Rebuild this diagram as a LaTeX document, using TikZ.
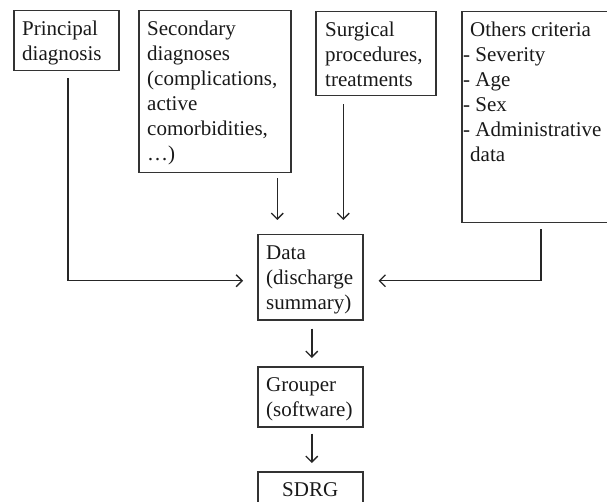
\documentclass[tikz,border=0pt]{standalone}
\usepackage{fontspec}
\setmainfont{Liberation Serif}
\usetikzlibrary{arrows.meta,calc}
\begin{document}
\begin{tikzpicture}[x=1pt,y=-1pt,
  box/.style={draw=black!80, line width=1.5pt, inner sep=0pt, anchor=north west},
  txt/.style={anchor=north west, inner sep=0pt, align=left, text=black!90, font=\fontsize{21}{25}\selectfont},
  arr/.style={draw=black!85, line width=1.5pt, -{Straight Barb[length=6pt,width=12pt,line width=1.3pt]}}]
\useasboundingbox (0,0) rectangle (607,502);
% boxes
\node[box, minimum width=105pt, minimum height=60pt] (p) at (13,10) {};
\node[box, minimum width=152pt, minimum height=162pt] (s) at (138,10) {};
\node[box, minimum width=120pt, minimum height=84pt] (u) at (315,11) {};
\node[box, minimum width=147pt, minimum height=211pt] (o) at (461,11) {};
\node[box, minimum width=105pt, minimum height=85pt] (d) at (257,234) {};
\node[box, minimum width=105pt, minimum height=60pt] (g) at (257,366) {};
\node[box, minimum width=105pt, minimum height=45pt] (r) at (257,471) {};
% texts
\node[txt] (pt) at ($(p.north west)+(9,7.5)$) {\strut Principal\\diagnosis};
\node[txt] (st) at ($(s.north west)+(9,7.5)$) {\strut Secondary\\diagnoses\\(complications,\\active\\comorbidities,\\\dots)};
\node[txt] (ut) at ($(u.north west)+(10,7.5)$) {\strut Surgical\\procedures,\\treatments};
\node[txt] (ot) at ($(o.north west)+(9,7.5)$) {\strut Others criteria\\\hspace*{-7pt}- Severity\\\hspace*{-7pt}- Age\\\hspace*{-7pt}- Sex\\\hspace*{-7pt}- Administrative\\data};
\node[txt] (dt) at ($(d.north west)+(9,7.5)$) {\strut Data\\(discharge\\summary)};
\node[txt] (gt) at ($(g.north west)+(9,7.5)$) {\strut Grouper\\(software)};
\node[txt, anchor=base] (rt) at ($(r.north)+(0,25)$) {SDRG};
% connector end points
\coordinate (in1) at ($(d.north)+(-33,-14)$);
\coordinate (in2) at ($(d.north)+(33,-14)$);
\coordinate (dl) at ($(d.west)+(-14,3.5)$);
\coordinate (dr) at ($(d.east)+(15,3.5)$);
% connectors
\draw[arr, shorten <=7pt] ([xshift=1.5pt]p.south) |- (dl);
\draw[arr, shorten <=5pt] (s.south -| in1) -- (in1);
\draw[arr, shorten <=8pt] (u.south -| in2) -- (in2);
\draw[arr, shorten <=6pt] ([xshift=5.5pt]o.south) |- (dr);
\draw[arr, shorten <=8pt, shorten >=8pt] ([xshift=1.5pt]d.south) -- ([xshift=1.5pt]g.north);
\draw[arr, shorten <=6pt, shorten >=8pt] ([xshift=1.5pt]g.south) -- ([xshift=1.5pt]r.north);
\end{tikzpicture}
\end{document}
